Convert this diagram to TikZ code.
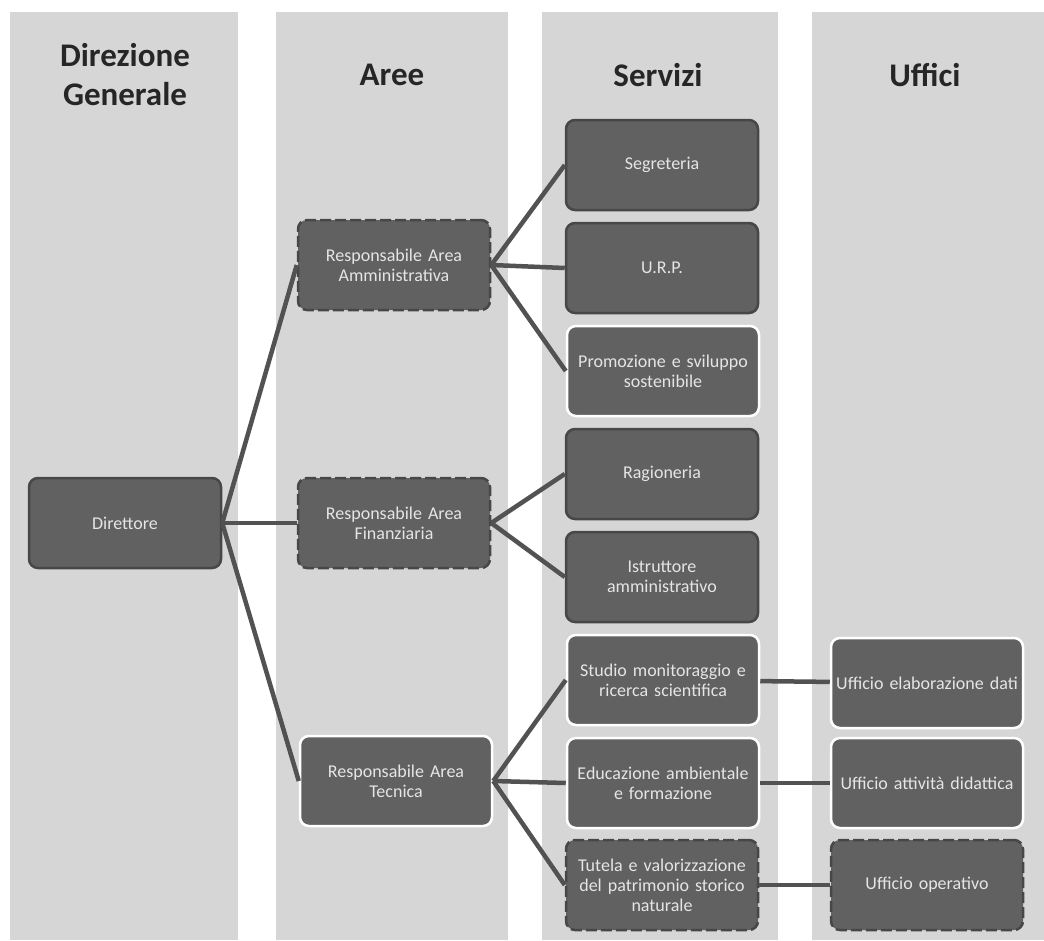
\documentclass[tikz,border=0pt]{standalone}
\usepackage{fontspec}
\setmainfont{Carlito}
\begin{document}
\begin{tikzpicture}[
    x=1pt, y=-1pt,
    band/.style={fill=black!16},
    head/.style={font=\fontsize{33}{39}\selectfont\bfseries, text=black!85, align=center},
    unit/.style={rounded corners=9pt, fill=black!62, text=white!90!black,
      font=\fontsize{18}{20}\selectfont, align=center, text width=186pt,
      line width=2.5pt, minimum width=192pt, minimum height=90pt, inner sep=1pt},
    dark/.style={unit, draw=black!72},
    light/.style={unit, draw=white},
    rough/.style={unit, draw=black!72, dash pattern=on 11pt off 4pt},
    link/.style={draw=black!68, line width=4.5pt},
  ]
    \useasboundingbox[fill=white] (0,0) rectangle (1044,940);
    % Column bands
    \foreach \xa/\xb in {10/238, 276/508, 542/778, 812/1044}
      \fill[band] (\xa,12) rectangle (\xb,940);
    % Headers
    \node[head] (hdir) at (125,75) {Direzione\\Generale};
    \node[head] (hare) at (392,75) {Aree};
    \node[head] (hser) at (658,75) {Servizi};
    \node[head] (huff) at (925,75) {Uffici};

    % Direzione
    \node[dark] (dir) at (125,523) {Direttore};

    % Aree
    \node[rough] (amm) at (394,265) {Responsabile Area\\Amministrativa};
    \node[rough] (fin) at (394,523) {Responsabile Area\\Finanziaria};
    \node[light] (tec) at (396,781) {Responsabile Area\\Tecnica};

    % Servizi
    \node[dark]  (seg) at (662,165) {Segreteria};
    \node[dark]  (urp) at (662,268) {U.R.P.};
    \node[light] (pro) at (663,371) {Promozione e sviluppo\\sostenibile};
    \node[dark]  (rag) at (662,474) {Ragioneria};
    \node[dark]  (ist) at (662,577) {Istruttore\\amministrativo};
    \node[light] (stu) at (663,680) {Studio monitoraggio e\\ricerca scientifica};
    \node[light] (edu) at (663,783) {Educazione ambientale\\e formazione};
    \node[rough] (tut) at (662,885) {Tutela e valorizzazione\\del patrimonio storico\\naturale};

    % Uffici
    \node[light] (ela) at (927,683) {Ufficio elaborazione dati};
    \node[light] (att) at (927,783) {Ufficio attività didattica};
    \node[rough] (ope) at (927,885) {Ufficio operativo};

    % Connectors
    \foreach \a in {amm,fin,tec}
      \draw[link] (dir.east) -- (\a.west);
    \foreach \s in {seg,urp,pro}
      \draw[link] (amm.east) -- (\s.west);
    \foreach \s in {rag,ist}
      \draw[link] (fin.east) -- (\s.west);
    \foreach \s in {stu,edu,tut}
      \draw[link] (tec.east) -- (\s.west);
    \draw[link] (stu) -- (ela);
    \draw[link] (edu) -- (att);
    \draw[link] (tut) -- (ope);
  \end{tikzpicture}
\end{document}
